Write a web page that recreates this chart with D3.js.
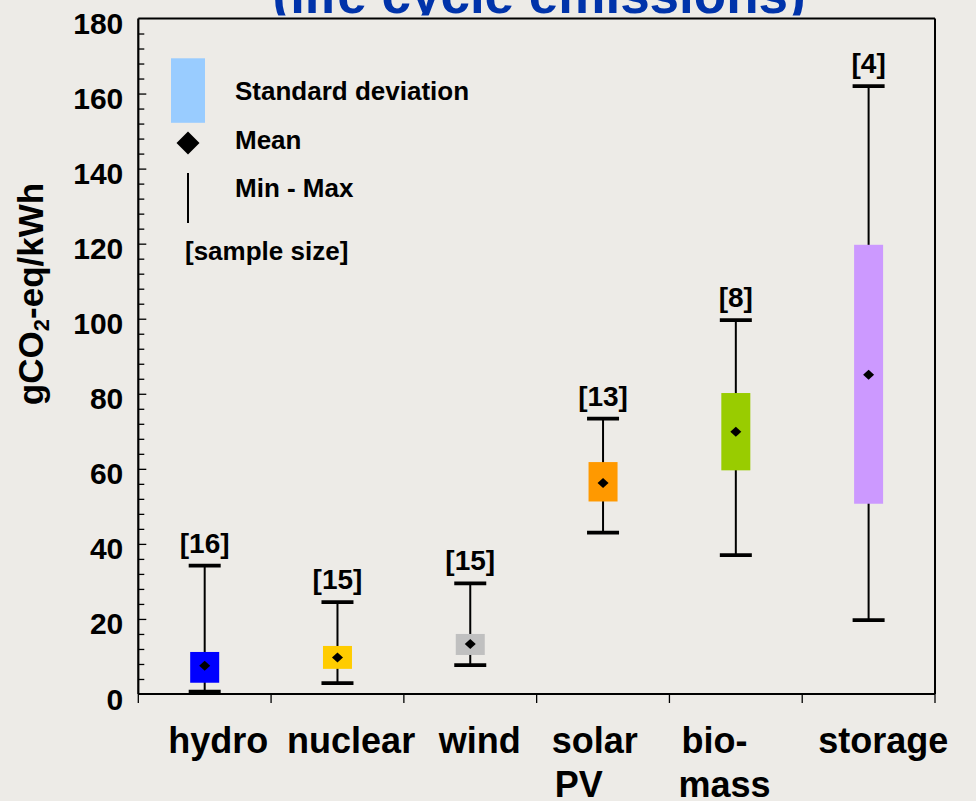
<!DOCTYPE html>
<html>
<head>
<meta charset="utf-8">
<script src="https://cdn.jsdelivr.net/npm/d3@7"></script>
<style>
  html, body { margin: 0; padding: 0; background: #EDEBE7; }
  svg { display: block; }
  text { font-family: "Liberation Sans", Arial, Helvetica, sans-serif; font-weight: bold; }
</style>
</head>
<body>
<script>
// ---------------- DATA ----------------
const categories = ["hydro", "nuclear", "wind", "solar PV", "bio-mass", "storage"];
const categoryLines = [["hydro"], ["nuclear"], ["wind"], ["solar", "PV"], ["bio-", "mass"], ["storage"]];
const minValues  = [0.6, 2.9, 7.7, 43, 37, 19.7];
const sdLow      = [3.0, 6.7, 10.4, 51.3, 59.6, 50.7];
const meanValues = [7.5, 9.7, 13.3, 56.2, 69.9, 85.1];
const sdHigh     = [11.2, 12.8, 16.0, 61.8, 80.2, 119.7];
const maxValues  = [34.2, 24.5, 29.5, 73.4, 99.6, 162];
const sampleSize = [16, 15, 15, 13, 8, 4];
const boxColors  = ["#0000FF", "#FFCC00", "#C0C0C0", "#FF9900", "#99CC00", "#CC99FF"];
const yMajorTicks = [0, 20, 40, 60, 80, 100, 120, 140, 160, 180];
const yMinorStep = 4;
const legendItems = ["Standard deviation", "Mean", "Min - Max", "[sample size]"];
const titleText = "(life cycle emissions)";
const yLabelMain = "gCO", yLabelSub = "2", yLabelRest = "-eq/kWh";

// ---------------- LAYOUT ----------------
const W = 976, H = 801;
const plot = { left: 138.3, right: 935, top: 18.5, bottom: 694 };
const labelDx = [30, 16, 35, 15, 12, 16];   // left offset of category label inside its band

const svg = d3.select("body").append("svg").attr("width", W).attr("height", H);
svg.append("rect").attr("width", W).attr("height", H).attr("fill", "#EDEBE7");

const x = d3.scaleBand().domain(categories).range([plot.left, plot.right]).padding(0);
const y = d3.scaleLinear().domain([0, 180]).range([plot.bottom, plot.top]);

// Title (partially cut off at the top)
const defs = svg.append("defs");
defs.append("clipPath").attr("id", "titleClip")
  .append("rect").attr("x", 0).attr("y", -100).attr("width", W).attr("height", 115.5);
svg.append("text")
  .attr("clip-path", "url(#titleClip)")
  .attr("x", 272.5).attr("y", 12.7)
  .attr("fill", "#0033AA")
  .attr("font-size", 53)
  .text(titleText);

// Frame: top and right borders
svg.append("line").attr("x1", plot.left).attr("x2", plot.right).attr("y1", plot.top).attr("y2", plot.top)
  .attr("stroke", "#000").attr("stroke-width", 2);
svg.append("line").attr("x1", plot.right).attr("x2", plot.right).attr("y1", plot.top).attr("y2", plot.bottom)
  .attr("stroke", "#000").attr("stroke-width", 2);

// Y axis minor ticks (inward)
const minorTicks = d3.range(0, 181, yMinorStep).filter(v => v % 20 !== 0);
const gMinor = svg.append("g").attr("transform", `translate(${plot.left},0)`)
  .call(d3.axisRight(y).tickValues(minorTicks).tickSize(6).tickFormat(""));
gMinor.select(".domain").remove();
gMinor.selectAll("line").attr("stroke", "#000").attr("stroke-width", 1.3);

const gMajor = svg.append("g").attr("transform", `translate(${plot.left},0)`)
  .call(d3.axisRight(y).tickValues(yMajorTicks.filter(v => v > 0 && v < 180)).tickSize(8).tickFormat(""));
gMajor.select(".domain").remove();
gMajor.selectAll("line").attr("stroke", "#000").attr("stroke-width", 1.3);

// Y tick labels
const gLab = svg.append("g").attr("transform", `translate(${plot.left},0)`)
  .call(d3.axisLeft(y).tickValues(yMajorTicks).tickSize(0).tickPadding(15));
gLab.select(".domain").remove();
gLab.selectAll("text")
  .attr("font-family", "'Liberation Sans', Arial, sans-serif")
  .attr("font-weight", "bold")
  .attr("font-size", 30)
  .attr("fill", "#000")
  .attr("dy", null)
  .attr("y", 15)
  .attr("dominant-baseline", "alphabetic");

// Left axis line
svg.append("line").attr("x1", plot.left).attr("x2", plot.left).attr("y1", plot.top).attr("y2", plot.bottom)
  .attr("stroke", "#000").attr("stroke-width", 2.2);

// Bottom axis line and boundary ticks
svg.append("line").attr("x1", plot.left).attr("x2", plot.right).attr("y1", plot.bottom).attr("y2", plot.bottom)
  .attr("stroke", "#000").attr("stroke-width", 2.2);
const boundaries = categories.map(c => x(c)).concat([x.range()[1]]);
svg.append("g").selectAll("line").data(boundaries).join("line")
  .attr("x1", d => d).attr("x2", d => d)
  .attr("y1", plot.bottom).attr("y2", plot.bottom + 9)
  .attr("stroke", "#000").attr("stroke-width", 1.3);

// Category labels
const gCat = svg.append("g");
categoryLines.forEach((lines, i) => {
  lines.forEach((ln, j) => {
    gCat.append("text")
      .attr("x", x(categories[i]) + labelDx[i] + (j === 1 && i === 3 ? 3 : 0) + (j === 1 && i === 4 ? -3 : 0))
      .attr("y", 752.7 + j * 44.5)
      .attr("font-size", 36)
      .attr("fill", "#000")
      .text(ln);
  });
});

// Y axis title
const yt = svg.append("text")
  .attr("transform", `translate(43,294) rotate(-90)`)
  .attr("text-anchor", "middle")
  .attr("font-size", 35)
  .attr("fill", "#000");
yt.append("tspan").text(yLabelMain);
yt.append("tspan").attr("font-size", 22).attr("dy", 6).text(yLabelSub);
yt.append("tspan").attr("dy", -6).text(yLabelRest);

// Boxes, whiskers, means
const boxW = 29, capW = 32;
const rows = categories.map((c, i) => ({
  c, min: minValues[i], lo: sdLow[i], mean: meanValues[i], hi: sdHigh[i], max: maxValues[i],
  n: sampleSize[i], color: boxColors[i]
}));
const gBox = svg.append("g");
const cx = d => x(d.c) + x.bandwidth() / 2;

gBox.selectAll("line.whisker").data(rows).join("line").attr("class", "whisker")
  .attr("x1", cx).attr("x2", cx)
  .attr("y1", d => y(d.max)).attr("y2", d => y(d.min))
  .attr("stroke", "#000").attr("stroke-width", 2);

gBox.selectAll("rect.sd").data(rows).join("rect").attr("class", "sd")
  .attr("x", d => cx(d) - boxW / 2).attr("width", boxW)
  .attr("y", d => y(d.hi)).attr("height", d => y(d.lo) - y(d.hi))
  .attr("fill", d => d.color);

gBox.selectAll("line.capMax").data(rows).join("line").attr("class", "capMax")
  .attr("x1", d => cx(d) - capW / 2).attr("x2", d => cx(d) + capW / 2)
  .attr("y1", d => y(d.max)).attr("y2", d => y(d.max))
  .attr("stroke", "#000").attr("stroke-width", 3.8);
gBox.selectAll("line.capMin").data(rows).join("line").attr("class", "capMin")
  .attr("x1", d => cx(d) - capW / 2).attr("x2", d => cx(d) + capW / 2)
  .attr("y1", d => y(d.min)).attr("y2", d => y(d.min))
  .attr("stroke", "#000").attr("stroke-width", 3.8);

const diamond = (s, h) => `M0,${-h}L${s},0L0,${h}L${-s},0Z`;
gBox.selectAll("path.mean").data(rows).join("path").attr("class", "mean")
  .attr("transform", d => `translate(${cx(d)},${y(d.mean)})`)
  .attr("d", diamond(5.5, 5))
  .attr("fill", "#000");

gBox.selectAll("text.n").data(rows).join("text").attr("class", "n")
  .attr("x", cx).attr("y", d => y(d.max) - 13)
  .attr("text-anchor", "middle")
  .attr("font-size", 28)
  .attr("fill", "#000")
  .text(d => `[${d.n}]`);

// Legend
const gLeg = svg.append("g");
gLeg.append("rect").attr("x", 171).attr("y", 58.3).attr("width", 34).attr("height", 64.5).attr("fill", "#99CCFF");
gLeg.append("path").attr("transform", "translate(188,143)").attr("d", diamond(11.5, 11.5)).attr("fill", "#000");
gLeg.append("line").attr("x1", 188).attr("x2", 188).attr("y1", 173).attr("y2", 223)
  .attr("stroke", "#000").attr("stroke-width", 2);
const legPos = [[235, 100], [235, 149], [235, 197], [185, 260]];
legendItems.forEach((t, i) => {
  gLeg.append("text").attr("x", legPos[i][0]).attr("y", legPos[i][1])
    .attr("font-size", 26).attr("fill", "#000").text(t);
});
</script>
</body>
</html>
